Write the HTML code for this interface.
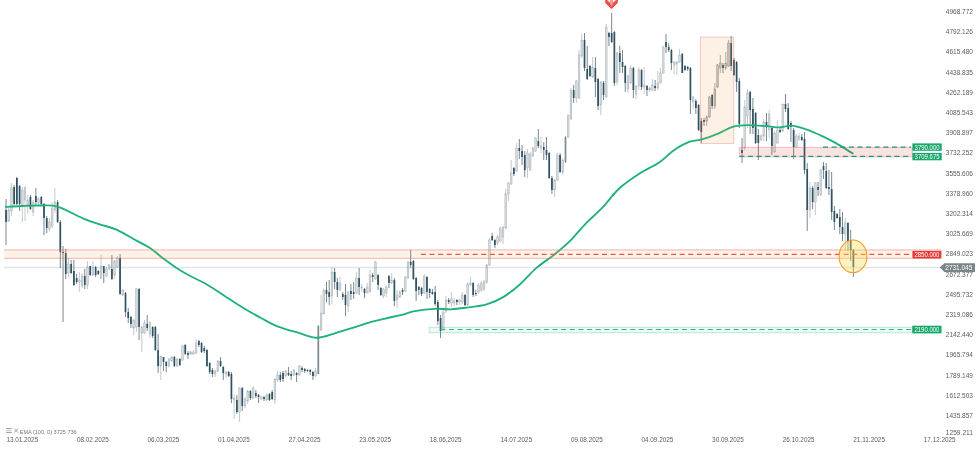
<!DOCTYPE html>
<html><head><meta charset="utf-8"><style>
html,body{margin:0;padding:0;background:#fff;}
body{width:980px;height:452px;overflow:hidden;}
svg{display:block;font-family:"Liberation Sans",sans-serif;will-change:transform;}
.ax text{font-size:7px;fill:#585d62;}
.lb text{font-size:6.4px;fill:#fff;}
</style></head><body>
<svg width="980" height="452" viewBox="0 0 980 452">
<rect width="980" height="452" fill="#fff"/>
<g>
<line x1="6.00" y1="199.0" x2="6.00" y2="245.0" stroke="#566a78" stroke-width="0.8"/>
<rect x="5.15" y="210.0" width="1.7" height="12.0" fill="#2f5262"/>
<line x1="8.72" y1="208.0" x2="8.72" y2="222.0" stroke="#b3bbc0" stroke-width="0.8"/>
<rect x="7.87" y="210.0" width="1.7" height="11.0" fill="#d6dadd" stroke="#a7afb4" stroke-width="0.45"/>
<line x1="11.43" y1="183.0" x2="11.43" y2="216.0" stroke="#b3bbc0" stroke-width="0.8"/>
<rect x="10.58" y="188.0" width="1.7" height="23.0" fill="#d6dadd" stroke="#a7afb4" stroke-width="0.45"/>
<line x1="14.15" y1="185.0" x2="14.15" y2="205.0" stroke="#566a78" stroke-width="0.8"/>
<rect x="13.30" y="187.0" width="1.7" height="17.0" fill="#2f5262"/>
<line x1="16.86" y1="177.0" x2="16.86" y2="205.0" stroke="#566a78" stroke-width="0.8"/>
<rect x="16.01" y="178.0" width="1.7" height="26.0" fill="#2f5262"/>
<line x1="19.58" y1="185.0" x2="19.58" y2="211.0" stroke="#566a78" stroke-width="0.8"/>
<rect x="18.73" y="186.0" width="1.7" height="18.0" fill="#2f5262"/>
<line x1="22.30" y1="187.0" x2="22.30" y2="222.0" stroke="#b3bbc0" stroke-width="0.8"/>
<rect x="21.45" y="190.0" width="1.7" height="15.0" fill="#d6dadd" stroke="#a7afb4" stroke-width="0.45"/>
<line x1="25.01" y1="186.0" x2="25.01" y2="221.0" stroke="#b3bbc0" stroke-width="0.8"/>
<rect x="24.16" y="188.0" width="1.7" height="12.0" fill="#d6dadd" stroke="#a7afb4" stroke-width="0.45"/>
<line x1="27.73" y1="195.0" x2="27.73" y2="214.0" stroke="#b3bbc0" stroke-width="0.8"/>
<rect x="26.88" y="200.0" width="1.7" height="5.0" fill="#d6dadd" stroke="#a7afb4" stroke-width="0.45"/>
<line x1="30.44" y1="195.0" x2="30.44" y2="210.0" stroke="#566a78" stroke-width="0.8"/>
<rect x="29.59" y="197.0" width="1.7" height="12.0" fill="#2f5262"/>
<line x1="33.16" y1="200.0" x2="33.16" y2="216.0" stroke="#b3bbc0" stroke-width="0.8"/>
<rect x="32.31" y="202.0" width="1.7" height="10.0" fill="#d6dadd" stroke="#a7afb4" stroke-width="0.45"/>
<line x1="35.88" y1="188.0" x2="35.88" y2="205.0" stroke="#566a78" stroke-width="0.8"/>
<rect x="35.03" y="196.0" width="1.7" height="6.0" fill="#2f5262"/>
<line x1="38.59" y1="197.0" x2="38.59" y2="206.0" stroke="#b3bbc0" stroke-width="0.8"/>
<rect x="37.74" y="199.0" width="1.7" height="4.0" fill="#d6dadd" stroke="#a7afb4" stroke-width="0.45"/>
<line x1="41.31" y1="196.0" x2="41.31" y2="205.0" stroke="#566a78" stroke-width="0.8"/>
<rect x="40.46" y="197.0" width="1.7" height="7.0" fill="#2f5262"/>
<line x1="44.02" y1="203.0" x2="44.02" y2="235.0" stroke="#566a78" stroke-width="0.8"/>
<rect x="43.17" y="204.0" width="1.7" height="14.0" fill="#2f5262"/>
<line x1="46.74" y1="216.0" x2="46.74" y2="233.0" stroke="#566a78" stroke-width="0.8"/>
<rect x="45.89" y="218.0" width="1.7" height="10.0" fill="#2f5262"/>
<line x1="49.46" y1="218.0" x2="49.46" y2="231.0" stroke="#b3bbc0" stroke-width="0.8"/>
<rect x="48.61" y="222.0" width="1.7" height="7.0" fill="#d6dadd" stroke="#a7afb4" stroke-width="0.45"/>
<line x1="52.17" y1="202.0" x2="52.17" y2="228.0" stroke="#b3bbc0" stroke-width="0.8"/>
<rect x="51.32" y="208.0" width="1.7" height="18.0" fill="#d6dadd" stroke="#a7afb4" stroke-width="0.45"/>
<line x1="54.89" y1="188.0" x2="54.89" y2="213.0" stroke="#b3bbc0" stroke-width="0.8"/>
<rect x="54.04" y="202.0" width="1.7" height="8.0" fill="#d6dadd" stroke="#a7afb4" stroke-width="0.45"/>
<line x1="57.60" y1="200.0" x2="57.60" y2="223.0" stroke="#566a78" stroke-width="0.8"/>
<rect x="56.75" y="202.0" width="1.7" height="20.0" fill="#2f5262"/>
<line x1="60.32" y1="220.0" x2="60.32" y2="268.0" stroke="#566a78" stroke-width="0.8"/>
<rect x="59.47" y="222.0" width="1.7" height="30.0" fill="#2f5262"/>
<line x1="63.04" y1="246.0" x2="63.04" y2="322.0" stroke="#566a78" stroke-width="0.8"/>
<rect x="62.19" y="252.0" width="1.7" height="1.0" fill="#2f5262"/>
<line x1="65.75" y1="249.0" x2="65.75" y2="279.0" stroke="#566a78" stroke-width="0.8"/>
<rect x="64.90" y="253.0" width="1.7" height="21.0" fill="#2f5262"/>
<line x1="68.47" y1="258.0" x2="68.47" y2="277.0" stroke="#b3bbc0" stroke-width="0.8"/>
<rect x="67.62" y="264.0" width="1.7" height="9.0" fill="#d6dadd" stroke="#a7afb4" stroke-width="0.45"/>
<line x1="71.18" y1="260.0" x2="71.18" y2="274.0" stroke="#566a78" stroke-width="0.8"/>
<rect x="70.33" y="264.0" width="1.7" height="9.0" fill="#2f5262"/>
<line x1="73.90" y1="260.0" x2="73.90" y2="286.0" stroke="#566a78" stroke-width="0.8"/>
<rect x="73.05" y="271.0" width="1.7" height="14.0" fill="#2f5262"/>
<line x1="76.62" y1="274.0" x2="76.62" y2="284.0" stroke="#566a78" stroke-width="0.8"/>
<rect x="75.77" y="278.0" width="1.7" height="4.0" fill="#2f5262"/>
<line x1="79.33" y1="272.0" x2="79.33" y2="292.0" stroke="#b3bbc0" stroke-width="0.8"/>
<rect x="78.48" y="280.0" width="1.7" height="2.0" fill="#d6dadd" stroke="#a7afb4" stroke-width="0.45"/>
<line x1="82.05" y1="273.0" x2="82.05" y2="288.0" stroke="#b3bbc0" stroke-width="0.8"/>
<rect x="81.20" y="276.0" width="1.7" height="10.0" fill="#d6dadd" stroke="#a7afb4" stroke-width="0.45"/>
<line x1="84.76" y1="269.0" x2="84.76" y2="289.0" stroke="#566a78" stroke-width="0.8"/>
<rect x="83.91" y="276.0" width="1.7" height="9.0" fill="#2f5262"/>
<line x1="87.48" y1="261.0" x2="87.48" y2="289.0" stroke="#b3bbc0" stroke-width="0.8"/>
<rect x="86.63" y="267.0" width="1.7" height="18.0" fill="#d6dadd" stroke="#a7afb4" stroke-width="0.45"/>
<line x1="90.20" y1="266.0" x2="90.20" y2="276.0" stroke="#566a78" stroke-width="0.8"/>
<rect x="89.35" y="266.0" width="1.7" height="9.0" fill="#2f5262"/>
<line x1="92.91" y1="261.0" x2="92.91" y2="276.0" stroke="#b3bbc0" stroke-width="0.8"/>
<rect x="92.06" y="267.0" width="1.7" height="8.0" fill="#d6dadd" stroke="#a7afb4" stroke-width="0.45"/>
<line x1="95.63" y1="266.0" x2="95.63" y2="277.0" stroke="#566a78" stroke-width="0.8"/>
<rect x="94.78" y="267.0" width="1.7" height="8.0" fill="#2f5262"/>
<line x1="98.34" y1="270.0" x2="98.34" y2="275.0" stroke="#566a78" stroke-width="0.8"/>
<rect x="97.49" y="271.0" width="1.7" height="3.0" fill="#2f5262"/>
<line x1="101.06" y1="255.0" x2="101.06" y2="279.0" stroke="#b3bbc0" stroke-width="0.8"/>
<rect x="100.21" y="266.0" width="1.7" height="12.0" fill="#d6dadd" stroke="#a7afb4" stroke-width="0.45"/>
<line x1="103.78" y1="266.0" x2="103.78" y2="283.0" stroke="#566a78" stroke-width="0.8"/>
<rect x="102.93" y="266.0" width="1.7" height="7.0" fill="#2f5262"/>
<line x1="106.49" y1="267.0" x2="106.49" y2="277.0" stroke="#b3bbc0" stroke-width="0.8"/>
<rect x="105.64" y="269.0" width="1.7" height="7.0" fill="#d6dadd" stroke="#a7afb4" stroke-width="0.45"/>
<line x1="109.21" y1="264.0" x2="109.21" y2="270.0" stroke="#b3bbc0" stroke-width="0.8"/>
<rect x="108.36" y="265.0" width="1.7" height="4.0" fill="#d6dadd" stroke="#a7afb4" stroke-width="0.45"/>
<line x1="111.92" y1="255.0" x2="111.92" y2="280.0" stroke="#566a78" stroke-width="0.8"/>
<rect x="111.07" y="269.0" width="1.7" height="10.0" fill="#2f5262"/>
<line x1="114.64" y1="260.0" x2="114.64" y2="279.0" stroke="#b3bbc0" stroke-width="0.8"/>
<rect x="113.79" y="261.0" width="1.7" height="14.0" fill="#d6dadd" stroke="#a7afb4" stroke-width="0.45"/>
<line x1="117.36" y1="256.0" x2="117.36" y2="268.0" stroke="#b3bbc0" stroke-width="0.8"/>
<rect x="116.51" y="258.0" width="1.7" height="9.0" fill="#d6dadd" stroke="#a7afb4" stroke-width="0.45"/>
<line x1="120.07" y1="254.0" x2="120.07" y2="295.0" stroke="#566a78" stroke-width="0.8"/>
<rect x="119.22" y="258.0" width="1.7" height="36.0" fill="#2f5262"/>
<line x1="122.79" y1="289.0" x2="122.79" y2="296.0" stroke="#b3bbc0" stroke-width="0.8"/>
<rect x="121.94" y="290.0" width="1.7" height="5.0" fill="#d6dadd" stroke="#a7afb4" stroke-width="0.45"/>
<line x1="125.50" y1="292.0" x2="125.50" y2="317.0" stroke="#566a78" stroke-width="0.8"/>
<rect x="124.65" y="293.0" width="1.7" height="19.0" fill="#2f5262"/>
<line x1="128.22" y1="308.0" x2="128.22" y2="323.0" stroke="#566a78" stroke-width="0.8"/>
<rect x="127.37" y="312.0" width="1.7" height="6.0" fill="#2f5262"/>
<line x1="130.94" y1="316.0" x2="130.94" y2="328.0" stroke="#566a78" stroke-width="0.8"/>
<rect x="130.09" y="317.0" width="1.7" height="7.0" fill="#2f5262"/>
<line x1="133.65" y1="319.0" x2="133.65" y2="335.0" stroke="#b3bbc0" stroke-width="0.8"/>
<rect x="132.80" y="320.0" width="1.7" height="8.0" fill="#d6dadd" stroke="#a7afb4" stroke-width="0.45"/>
<line x1="136.37" y1="288.0" x2="136.37" y2="332.0" stroke="#b3bbc0" stroke-width="0.8"/>
<rect x="135.52" y="289.0" width="1.7" height="38.0" fill="#d6dadd" stroke="#a7afb4" stroke-width="0.45"/>
<line x1="139.08" y1="288.0" x2="139.08" y2="340.0" stroke="#566a78" stroke-width="0.8"/>
<rect x="138.23" y="289.0" width="1.7" height="38.0" fill="#2f5262"/>
<line x1="141.80" y1="326.0" x2="141.80" y2="352.0" stroke="#b3bbc0" stroke-width="0.8"/>
<rect x="140.95" y="327.0" width="1.7" height="6.0" fill="#d6dadd" stroke="#a7afb4" stroke-width="0.45"/>
<line x1="144.52" y1="320.0" x2="144.52" y2="334.0" stroke="#b3bbc0" stroke-width="0.8"/>
<rect x="143.67" y="323.0" width="1.7" height="10.0" fill="#d6dadd" stroke="#a7afb4" stroke-width="0.45"/>
<line x1="147.23" y1="315.0" x2="147.23" y2="331.0" stroke="#566a78" stroke-width="0.8"/>
<rect x="146.38" y="324.0" width="1.7" height="4.0" fill="#2f5262"/>
<line x1="149.95" y1="322.0" x2="149.95" y2="338.0" stroke="#b3bbc0" stroke-width="0.8"/>
<rect x="149.10" y="322.0" width="1.7" height="12.0" fill="#d6dadd" stroke="#a7afb4" stroke-width="0.45"/>
<line x1="152.66" y1="326.0" x2="152.66" y2="338.0" stroke="#566a78" stroke-width="0.8"/>
<rect x="151.81" y="327.0" width="1.7" height="9.0" fill="#2f5262"/>
<line x1="155.38" y1="326.0" x2="155.38" y2="351.0" stroke="#566a78" stroke-width="0.8"/>
<rect x="154.53" y="327.0" width="1.7" height="23.0" fill="#2f5262"/>
<line x1="158.10" y1="334.0" x2="158.10" y2="373.0" stroke="#566a78" stroke-width="0.8"/>
<rect x="157.25" y="350.0" width="1.7" height="16.0" fill="#2f5262"/>
<line x1="160.81" y1="356.0" x2="160.81" y2="380.0" stroke="#b3bbc0" stroke-width="0.8"/>
<rect x="159.96" y="356.0" width="1.7" height="10.0" fill="#d6dadd" stroke="#a7afb4" stroke-width="0.45"/>
<line x1="163.53" y1="357.0" x2="163.53" y2="371.0" stroke="#566a78" stroke-width="0.8"/>
<rect x="162.68" y="357.0" width="1.7" height="5.0" fill="#2f5262"/>
<line x1="166.24" y1="361.0" x2="166.24" y2="372.0" stroke="#566a78" stroke-width="0.8"/>
<rect x="165.39" y="362.0" width="1.7" height="4.0" fill="#2f5262"/>
<line x1="168.96" y1="358.0" x2="168.96" y2="367.0" stroke="#b3bbc0" stroke-width="0.8"/>
<rect x="168.11" y="359.0" width="1.7" height="7.0" fill="#d6dadd" stroke="#a7afb4" stroke-width="0.45"/>
<line x1="171.68" y1="356.0" x2="171.68" y2="362.0" stroke="#b3bbc0" stroke-width="0.8"/>
<rect x="170.83" y="357.0" width="1.7" height="4.0" fill="#d6dadd" stroke="#a7afb4" stroke-width="0.45"/>
<line x1="174.39" y1="356.0" x2="174.39" y2="367.0" stroke="#566a78" stroke-width="0.8"/>
<rect x="173.54" y="357.0" width="1.7" height="9.0" fill="#2f5262"/>
<line x1="177.11" y1="358.0" x2="177.11" y2="367.0" stroke="#b3bbc0" stroke-width="0.8"/>
<rect x="176.26" y="359.0" width="1.7" height="7.0" fill="#d6dadd" stroke="#a7afb4" stroke-width="0.45"/>
<line x1="179.82" y1="358.0" x2="179.82" y2="366.0" stroke="#566a78" stroke-width="0.8"/>
<rect x="178.97" y="359.0" width="1.7" height="6.0" fill="#2f5262"/>
<line x1="182.54" y1="345.0" x2="182.54" y2="361.0" stroke="#b3bbc0" stroke-width="0.8"/>
<rect x="181.69" y="346.0" width="1.7" height="14.0" fill="#d6dadd" stroke="#a7afb4" stroke-width="0.45"/>
<line x1="185.26" y1="344.0" x2="185.26" y2="355.0" stroke="#566a78" stroke-width="0.8"/>
<rect x="184.41" y="345.0" width="1.7" height="9.0" fill="#2f5262"/>
<line x1="187.97" y1="351.0" x2="187.97" y2="359.0" stroke="#566a78" stroke-width="0.8"/>
<rect x="187.12" y="353.0" width="1.7" height="2.0" fill="#2f5262"/>
<line x1="190.69" y1="351.0" x2="190.69" y2="355.0" stroke="#b3bbc0" stroke-width="0.8"/>
<rect x="189.84" y="352.0" width="1.7" height="2.0" fill="#d6dadd" stroke="#a7afb4" stroke-width="0.45"/>
<line x1="193.40" y1="350.0" x2="193.40" y2="355.0" stroke="#b3bbc0" stroke-width="0.8"/>
<rect x="192.55" y="352.0" width="1.7" height="2.0" fill="#d6dadd" stroke="#a7afb4" stroke-width="0.45"/>
<line x1="196.12" y1="339.0" x2="196.12" y2="354.0" stroke="#b3bbc0" stroke-width="0.8"/>
<rect x="195.27" y="343.0" width="1.7" height="10.0" fill="#d6dadd" stroke="#a7afb4" stroke-width="0.45"/>
<line x1="198.84" y1="340.0" x2="198.84" y2="347.0" stroke="#566a78" stroke-width="0.8"/>
<rect x="197.99" y="341.0" width="1.7" height="4.0" fill="#2f5262"/>
<line x1="201.55" y1="342.0" x2="201.55" y2="353.0" stroke="#566a78" stroke-width="0.8"/>
<rect x="200.70" y="343.0" width="1.7" height="9.0" fill="#2f5262"/>
<line x1="204.27" y1="346.0" x2="204.27" y2="353.0" stroke="#566a78" stroke-width="0.8"/>
<rect x="203.42" y="348.0" width="1.7" height="3.0" fill="#2f5262"/>
<line x1="206.98" y1="349.0" x2="206.98" y2="367.0" stroke="#566a78" stroke-width="0.8"/>
<rect x="206.13" y="350.0" width="1.7" height="16.0" fill="#2f5262"/>
<line x1="209.70" y1="362.0" x2="209.70" y2="374.0" stroke="#566a78" stroke-width="0.8"/>
<rect x="208.85" y="363.0" width="1.7" height="9.0" fill="#2f5262"/>
<line x1="212.42" y1="368.0" x2="212.42" y2="377.0" stroke="#566a78" stroke-width="0.8"/>
<rect x="211.57" y="370.0" width="1.7" height="4.0" fill="#2f5262"/>
<line x1="215.13" y1="370.0" x2="215.13" y2="377.0" stroke="#b3bbc0" stroke-width="0.8"/>
<rect x="214.28" y="371.0" width="1.7" height="3.0" fill="#d6dadd" stroke="#a7afb4" stroke-width="0.45"/>
<line x1="217.85" y1="360.0" x2="217.85" y2="372.0" stroke="#b3bbc0" stroke-width="0.8"/>
<rect x="217.00" y="361.0" width="1.7" height="10.0" fill="#d6dadd" stroke="#a7afb4" stroke-width="0.45"/>
<line x1="220.56" y1="357.0" x2="220.56" y2="367.0" stroke="#566a78" stroke-width="0.8"/>
<rect x="219.71" y="361.0" width="1.7" height="5.0" fill="#2f5262"/>
<line x1="223.28" y1="366.0" x2="223.28" y2="380.0" stroke="#566a78" stroke-width="0.8"/>
<rect x="222.43" y="367.0" width="1.7" height="6.0" fill="#2f5262"/>
<line x1="226.00" y1="371.0" x2="226.00" y2="378.0" stroke="#b3bbc0" stroke-width="0.8"/>
<rect x="225.15" y="372.0" width="1.7" height="2.0" fill="#d6dadd" stroke="#a7afb4" stroke-width="0.45"/>
<line x1="228.71" y1="371.0" x2="228.71" y2="377.0" stroke="#566a78" stroke-width="0.8"/>
<rect x="227.86" y="372.0" width="1.7" height="4.0" fill="#2f5262"/>
<line x1="231.43" y1="372.0" x2="231.43" y2="403.0" stroke="#566a78" stroke-width="0.8"/>
<rect x="230.58" y="374.0" width="1.7" height="25.0" fill="#2f5262"/>
<line x1="234.14" y1="394.0" x2="234.14" y2="419.0" stroke="#b3bbc0" stroke-width="0.8"/>
<rect x="233.29" y="398.0" width="1.7" height="2.0" fill="#d6dadd" stroke="#a7afb4" stroke-width="0.45"/>
<line x1="236.86" y1="395.0" x2="236.86" y2="414.0" stroke="#566a78" stroke-width="0.8"/>
<rect x="236.01" y="400.0" width="1.7" height="12.0" fill="#2f5262"/>
<line x1="239.58" y1="387.0" x2="239.58" y2="422.0" stroke="#b3bbc0" stroke-width="0.8"/>
<rect x="238.73" y="388.0" width="1.7" height="24.0" fill="#d6dadd" stroke="#a7afb4" stroke-width="0.45"/>
<line x1="242.29" y1="387.0" x2="242.29" y2="411.0" stroke="#566a78" stroke-width="0.8"/>
<rect x="241.44" y="388.0" width="1.7" height="18.0" fill="#2f5262"/>
<line x1="245.01" y1="397.0" x2="245.01" y2="408.0" stroke="#b3bbc0" stroke-width="0.8"/>
<rect x="244.16" y="399.0" width="1.7" height="7.0" fill="#d6dadd" stroke="#a7afb4" stroke-width="0.45"/>
<line x1="247.72" y1="390.0" x2="247.72" y2="404.0" stroke="#b3bbc0" stroke-width="0.8"/>
<rect x="246.87" y="391.0" width="1.7" height="10.0" fill="#d6dadd" stroke="#a7afb4" stroke-width="0.45"/>
<line x1="250.44" y1="390.0" x2="250.44" y2="400.0" stroke="#566a78" stroke-width="0.8"/>
<rect x="249.59" y="391.0" width="1.7" height="7.0" fill="#2f5262"/>
<line x1="253.16" y1="386.0" x2="253.16" y2="399.0" stroke="#b3bbc0" stroke-width="0.8"/>
<rect x="252.31" y="388.0" width="1.7" height="10.0" fill="#d6dadd" stroke="#a7afb4" stroke-width="0.45"/>
<line x1="255.87" y1="390.0" x2="255.87" y2="398.0" stroke="#566a78" stroke-width="0.8"/>
<rect x="255.02" y="393.0" width="1.7" height="3.0" fill="#2f5262"/>
<line x1="258.59" y1="394.0" x2="258.59" y2="403.0" stroke="#566a78" stroke-width="0.8"/>
<rect x="257.74" y="395.0" width="1.7" height="2.0" fill="#2f5262"/>
<line x1="261.30" y1="396.0" x2="261.30" y2="400.0" stroke="#b3bbc0" stroke-width="0.8"/>
<rect x="260.45" y="397.0" width="1.7" height="2.0" fill="#d6dadd" stroke="#a7afb4" stroke-width="0.45"/>
<line x1="264.02" y1="396.0" x2="264.02" y2="401.0" stroke="#566a78" stroke-width="0.8"/>
<rect x="263.17" y="397.0" width="1.7" height="2.0" fill="#2f5262"/>
<line x1="266.74" y1="393.0" x2="266.74" y2="401.0" stroke="#b3bbc0" stroke-width="0.8"/>
<rect x="265.89" y="395.0" width="1.7" height="5.0" fill="#d6dadd" stroke="#a7afb4" stroke-width="0.45"/>
<line x1="269.45" y1="393.0" x2="269.45" y2="401.0" stroke="#566a78" stroke-width="0.8"/>
<rect x="268.60" y="394.0" width="1.7" height="6.0" fill="#2f5262"/>
<line x1="272.17" y1="390.0" x2="272.17" y2="400.0" stroke="#566a78" stroke-width="0.8"/>
<rect x="271.32" y="392.0" width="1.7" height="7.0" fill="#2f5262"/>
<line x1="274.88" y1="378.0" x2="274.88" y2="404.0" stroke="#b3bbc0" stroke-width="0.8"/>
<rect x="274.03" y="379.0" width="1.7" height="21.0" fill="#d6dadd" stroke="#a7afb4" stroke-width="0.45"/>
<line x1="277.60" y1="371.0" x2="277.60" y2="382.0" stroke="#b3bbc0" stroke-width="0.8"/>
<rect x="276.75" y="375.0" width="1.7" height="5.0" fill="#d6dadd" stroke="#a7afb4" stroke-width="0.45"/>
<line x1="280.32" y1="372.0" x2="280.32" y2="382.0" stroke="#566a78" stroke-width="0.8"/>
<rect x="279.47" y="375.0" width="1.7" height="5.0" fill="#2f5262"/>
<line x1="283.03" y1="371.0" x2="283.03" y2="382.0" stroke="#566a78" stroke-width="0.8"/>
<rect x="282.18" y="373.0" width="1.7" height="6.0" fill="#2f5262"/>
<line x1="285.75" y1="370.0" x2="285.75" y2="377.0" stroke="#b3bbc0" stroke-width="0.8"/>
<rect x="284.90" y="371.0" width="1.7" height="5.0" fill="#d6dadd" stroke="#a7afb4" stroke-width="0.45"/>
<line x1="288.46" y1="367.0" x2="288.46" y2="376.0" stroke="#566a78" stroke-width="0.8"/>
<rect x="287.61" y="373.0" width="1.7" height="2.0" fill="#2f5262"/>
<line x1="291.18" y1="371.0" x2="291.18" y2="380.0" stroke="#566a78" stroke-width="0.8"/>
<rect x="290.33" y="374.0" width="1.7" height="2.0" fill="#2f5262"/>
<line x1="293.90" y1="369.0" x2="293.90" y2="376.0" stroke="#b3bbc0" stroke-width="0.8"/>
<rect x="293.05" y="370.0" width="1.7" height="5.0" fill="#d6dadd" stroke="#a7afb4" stroke-width="0.45"/>
<line x1="296.61" y1="372.0" x2="296.61" y2="382.0" stroke="#566a78" stroke-width="0.8"/>
<rect x="295.76" y="373.0" width="1.7" height="2.0" fill="#2f5262"/>
<line x1="299.33" y1="365.0" x2="299.33" y2="376.0" stroke="#b3bbc0" stroke-width="0.8"/>
<rect x="298.48" y="366.0" width="1.7" height="9.0" fill="#d6dadd" stroke="#a7afb4" stroke-width="0.45"/>
<line x1="302.04" y1="366.0" x2="302.04" y2="372.0" stroke="#566a78" stroke-width="0.8"/>
<rect x="301.19" y="368.0" width="1.7" height="2.0" fill="#2f5262"/>
<line x1="304.76" y1="368.0" x2="304.76" y2="373.0" stroke="#566a78" stroke-width="0.8"/>
<rect x="303.91" y="369.0" width="1.7" height="2.0" fill="#2f5262"/>
<line x1="307.48" y1="369.0" x2="307.48" y2="372.0" stroke="#566a78" stroke-width="0.8"/>
<rect x="306.63" y="370.0" width="1.7" height="1.0" fill="#2f5262"/>
<line x1="310.19" y1="369.0" x2="310.19" y2="375.0" stroke="#566a78" stroke-width="0.8"/>
<rect x="309.34" y="370.0" width="1.7" height="2.0" fill="#2f5262"/>
<line x1="312.91" y1="371.0" x2="312.91" y2="380.0" stroke="#566a78" stroke-width="0.8"/>
<rect x="312.06" y="372.0" width="1.7" height="4.0" fill="#2f5262"/>
<line x1="315.62" y1="368.0" x2="315.62" y2="377.0" stroke="#b3bbc0" stroke-width="0.8"/>
<rect x="314.77" y="371.0" width="1.7" height="5.0" fill="#d6dadd" stroke="#a7afb4" stroke-width="0.45"/>
<line x1="318.34" y1="325.0" x2="318.34" y2="374.0" stroke="#7d8a92" stroke-width="0.8"/>
<rect x="317.49" y="326.0" width="1.7" height="48.0" fill="#7f8b93"/>
<line x1="321.06" y1="295.0" x2="321.06" y2="331.0" stroke="#b3bbc0" stroke-width="0.8"/>
<rect x="320.21" y="313.0" width="1.7" height="17.0" fill="#d6dadd" stroke="#a7afb4" stroke-width="0.45"/>
<line x1="323.77" y1="289.0" x2="323.77" y2="314.0" stroke="#b3bbc0" stroke-width="0.8"/>
<rect x="322.92" y="290.0" width="1.7" height="24.0" fill="#d6dadd" stroke="#a7afb4" stroke-width="0.45"/>
<line x1="326.49" y1="282.0" x2="326.49" y2="302.0" stroke="#566a78" stroke-width="0.8"/>
<rect x="325.64" y="290.0" width="1.7" height="4.0" fill="#2f5262"/>
<line x1="329.20" y1="280.0" x2="329.20" y2="305.0" stroke="#566a78" stroke-width="0.8"/>
<rect x="328.35" y="292.0" width="1.7" height="5.0" fill="#2f5262"/>
<line x1="331.92" y1="267.0" x2="331.92" y2="304.0" stroke="#b3bbc0" stroke-width="0.8"/>
<rect x="331.07" y="272.0" width="1.7" height="24.0" fill="#d6dadd" stroke="#a7afb4" stroke-width="0.45"/>
<line x1="334.64" y1="268.0" x2="334.64" y2="289.0" stroke="#566a78" stroke-width="0.8"/>
<rect x="333.79" y="272.0" width="1.7" height="10.0" fill="#2f5262"/>
<line x1="337.35" y1="278.0" x2="337.35" y2="297.0" stroke="#566a78" stroke-width="0.8"/>
<rect x="336.50" y="282.0" width="1.7" height="8.0" fill="#2f5262"/>
<line x1="340.07" y1="277.0" x2="340.07" y2="291.0" stroke="#b3bbc0" stroke-width="0.8"/>
<rect x="339.22" y="283.0" width="1.7" height="7.0" fill="#d6dadd" stroke="#a7afb4" stroke-width="0.45"/>
<line x1="342.78" y1="292.0" x2="342.78" y2="300.0" stroke="#566a78" stroke-width="0.8"/>
<rect x="341.93" y="294.0" width="1.7" height="3.0" fill="#2f5262"/>
<line x1="345.50" y1="284.0" x2="345.50" y2="316.0" stroke="#566a78" stroke-width="0.8"/>
<rect x="344.65" y="295.0" width="1.7" height="10.0" fill="#2f5262"/>
<line x1="348.22" y1="291.0" x2="348.22" y2="312.0" stroke="#b3bbc0" stroke-width="0.8"/>
<rect x="347.37" y="292.0" width="1.7" height="14.0" fill="#d6dadd" stroke="#a7afb4" stroke-width="0.45"/>
<line x1="350.93" y1="284.0" x2="350.93" y2="300.0" stroke="#566a78" stroke-width="0.8"/>
<rect x="350.08" y="291.0" width="1.7" height="3.0" fill="#2f5262"/>
<line x1="353.65" y1="282.0" x2="353.65" y2="299.0" stroke="#566a78" stroke-width="0.8"/>
<rect x="352.80" y="292.0" width="1.7" height="2.0" fill="#2f5262"/>
<line x1="356.36" y1="272.0" x2="356.36" y2="294.0" stroke="#b3bbc0" stroke-width="0.8"/>
<rect x="355.51" y="278.0" width="1.7" height="15.0" fill="#d6dadd" stroke="#a7afb4" stroke-width="0.45"/>
<line x1="359.08" y1="268.0" x2="359.08" y2="295.0" stroke="#566a78" stroke-width="0.8"/>
<rect x="358.23" y="278.0" width="1.7" height="9.0" fill="#2f5262"/>
<line x1="361.80" y1="284.0" x2="361.80" y2="292.0" stroke="#b3bbc0" stroke-width="0.8"/>
<rect x="360.95" y="287.0" width="1.7" height="1.0" fill="#d6dadd" stroke="#a7afb4" stroke-width="0.45"/>
<line x1="364.51" y1="288.0" x2="364.51" y2="298.0" stroke="#566a78" stroke-width="0.8"/>
<rect x="363.66" y="289.0" width="1.7" height="4.0" fill="#2f5262"/>
<line x1="367.23" y1="283.0" x2="367.23" y2="293.0" stroke="#b3bbc0" stroke-width="0.8"/>
<rect x="366.38" y="287.0" width="1.7" height="6.0" fill="#d6dadd" stroke="#a7afb4" stroke-width="0.45"/>
<line x1="369.94" y1="270.0" x2="369.94" y2="292.0" stroke="#b3bbc0" stroke-width="0.8"/>
<rect x="369.09" y="275.0" width="1.7" height="17.0" fill="#d6dadd" stroke="#a7afb4" stroke-width="0.45"/>
<line x1="372.66" y1="273.0" x2="372.66" y2="282.0" stroke="#566a78" stroke-width="0.8"/>
<rect x="371.81" y="275.0" width="1.7" height="2.0" fill="#2f5262"/>
<line x1="375.38" y1="261.0" x2="375.38" y2="280.0" stroke="#b3bbc0" stroke-width="0.8"/>
<rect x="374.53" y="262.0" width="1.7" height="17.0" fill="#d6dadd" stroke="#a7afb4" stroke-width="0.45"/>
<line x1="378.09" y1="274.0" x2="378.09" y2="290.0" stroke="#566a78" stroke-width="0.8"/>
<rect x="377.24" y="275.0" width="1.7" height="10.0" fill="#2f5262"/>
<line x1="380.81" y1="287.0" x2="380.81" y2="296.0" stroke="#566a78" stroke-width="0.8"/>
<rect x="379.96" y="288.0" width="1.7" height="7.0" fill="#2f5262"/>
<line x1="383.52" y1="288.0" x2="383.52" y2="298.0" stroke="#b3bbc0" stroke-width="0.8"/>
<rect x="382.67" y="289.0" width="1.7" height="7.0" fill="#d6dadd" stroke="#a7afb4" stroke-width="0.45"/>
<line x1="386.24" y1="285.0" x2="386.24" y2="297.0" stroke="#b3bbc0" stroke-width="0.8"/>
<rect x="385.39" y="287.0" width="1.7" height="6.0" fill="#d6dadd" stroke="#a7afb4" stroke-width="0.45"/>
<line x1="388.96" y1="275.0" x2="388.96" y2="288.0" stroke="#566a78" stroke-width="0.8"/>
<rect x="388.11" y="276.0" width="1.7" height="7.0" fill="#2f5262"/>
<line x1="391.67" y1="273.0" x2="391.67" y2="284.0" stroke="#b3bbc0" stroke-width="0.8"/>
<rect x="390.82" y="280.0" width="1.7" height="3.0" fill="#d6dadd" stroke="#a7afb4" stroke-width="0.45"/>
<line x1="394.39" y1="278.0" x2="394.39" y2="306.0" stroke="#566a78" stroke-width="0.8"/>
<rect x="393.54" y="280.0" width="1.7" height="21.0" fill="#2f5262"/>
<line x1="397.10" y1="290.0" x2="397.10" y2="308.0" stroke="#b3bbc0" stroke-width="0.8"/>
<rect x="396.25" y="295.0" width="1.7" height="5.0" fill="#d6dadd" stroke="#a7afb4" stroke-width="0.45"/>
<line x1="399.82" y1="290.0" x2="399.82" y2="298.0" stroke="#b3bbc0" stroke-width="0.8"/>
<rect x="398.97" y="292.0" width="1.7" height="5.0" fill="#d6dadd" stroke="#a7afb4" stroke-width="0.45"/>
<line x1="402.54" y1="288.0" x2="402.54" y2="295.0" stroke="#566a78" stroke-width="0.8"/>
<rect x="401.69" y="290.0" width="1.7" height="2.0" fill="#2f5262"/>
<line x1="405.25" y1="276.0" x2="405.25" y2="292.0" stroke="#b3bbc0" stroke-width="0.8"/>
<rect x="404.40" y="277.0" width="1.7" height="14.0" fill="#d6dadd" stroke="#a7afb4" stroke-width="0.45"/>
<line x1="407.97" y1="261.0" x2="407.97" y2="279.0" stroke="#b3bbc0" stroke-width="0.8"/>
<rect x="407.12" y="262.0" width="1.7" height="16.0" fill="#d6dadd" stroke="#a7afb4" stroke-width="0.45"/>
<line x1="410.68" y1="250.0" x2="410.68" y2="268.0" stroke="#566a78" stroke-width="0.8"/>
<rect x="409.83" y="262.0" width="1.7" height="3.0" fill="#2f5262"/>
<line x1="413.40" y1="260.0" x2="413.40" y2="280.0" stroke="#566a78" stroke-width="0.8"/>
<rect x="412.55" y="261.0" width="1.7" height="18.0" fill="#2f5262"/>
<line x1="416.12" y1="277.0" x2="416.12" y2="301.0" stroke="#566a78" stroke-width="0.8"/>
<rect x="415.27" y="278.0" width="1.7" height="13.0" fill="#2f5262"/>
<line x1="418.83" y1="286.0" x2="418.83" y2="295.0" stroke="#566a78" stroke-width="0.8"/>
<rect x="417.98" y="287.0" width="1.7" height="3.0" fill="#2f5262"/>
<line x1="421.55" y1="287.0" x2="421.55" y2="296.0" stroke="#566a78" stroke-width="0.8"/>
<rect x="420.70" y="288.0" width="1.7" height="6.0" fill="#2f5262"/>
<line x1="424.26" y1="274.0" x2="424.26" y2="294.0" stroke="#b3bbc0" stroke-width="0.8"/>
<rect x="423.41" y="276.0" width="1.7" height="17.0" fill="#d6dadd" stroke="#a7afb4" stroke-width="0.45"/>
<line x1="426.98" y1="276.0" x2="426.98" y2="299.0" stroke="#566a78" stroke-width="0.8"/>
<rect x="426.13" y="277.0" width="1.7" height="15.0" fill="#2f5262"/>
<line x1="429.70" y1="288.0" x2="429.70" y2="298.0" stroke="#566a78" stroke-width="0.8"/>
<rect x="428.85" y="289.0" width="1.7" height="4.0" fill="#2f5262"/>
<line x1="432.41" y1="289.0" x2="432.41" y2="295.0" stroke="#566a78" stroke-width="0.8"/>
<rect x="431.56" y="292.0" width="1.7" height="2.0" fill="#2f5262"/>
<line x1="435.13" y1="286.0" x2="435.13" y2="306.0" stroke="#566a78" stroke-width="0.8"/>
<rect x="434.28" y="292.0" width="1.7" height="12.0" fill="#2f5262"/>
<line x1="437.84" y1="300.0" x2="437.84" y2="325.0" stroke="#566a78" stroke-width="0.8"/>
<rect x="436.99" y="302.0" width="1.7" height="19.0" fill="#2f5262"/>
<line x1="440.56" y1="315.0" x2="440.56" y2="338.0" stroke="#566a78" stroke-width="0.8"/>
<rect x="439.71" y="318.0" width="1.7" height="13.0" fill="#2f5262"/>
<line x1="443.28" y1="309.0" x2="443.28" y2="331.0" stroke="#b3bbc0" stroke-width="0.8"/>
<rect x="442.43" y="312.0" width="1.7" height="18.0" fill="#d6dadd" stroke="#a7afb4" stroke-width="0.45"/>
<line x1="445.99" y1="296.0" x2="445.99" y2="313.0" stroke="#b3bbc0" stroke-width="0.8"/>
<rect x="445.14" y="300.0" width="1.7" height="11.0" fill="#d6dadd" stroke="#a7afb4" stroke-width="0.45"/>
<line x1="448.71" y1="298.0" x2="448.71" y2="304.0" stroke="#566a78" stroke-width="0.8"/>
<rect x="447.86" y="300.0" width="1.7" height="2.0" fill="#2f5262"/>
<line x1="451.42" y1="292.0" x2="451.42" y2="307.0" stroke="#b3bbc0" stroke-width="0.8"/>
<rect x="450.57" y="299.0" width="1.7" height="4.0" fill="#d6dadd" stroke="#a7afb4" stroke-width="0.45"/>
<line x1="454.14" y1="298.0" x2="454.14" y2="306.0" stroke="#b3bbc0" stroke-width="0.8"/>
<rect x="453.29" y="301.0" width="1.7" height="2.0" fill="#d6dadd" stroke="#a7afb4" stroke-width="0.45"/>
<line x1="456.86" y1="299.0" x2="456.86" y2="305.0" stroke="#566a78" stroke-width="0.8"/>
<rect x="456.01" y="300.0" width="1.7" height="2.0" fill="#2f5262"/>
<line x1="459.57" y1="299.0" x2="459.57" y2="305.0" stroke="#b3bbc0" stroke-width="0.8"/>
<rect x="458.72" y="300.0" width="1.7" height="2.0" fill="#d6dadd" stroke="#a7afb4" stroke-width="0.45"/>
<line x1="462.29" y1="292.0" x2="462.29" y2="304.0" stroke="#b3bbc0" stroke-width="0.8"/>
<rect x="461.44" y="295.0" width="1.7" height="7.0" fill="#d6dadd" stroke="#a7afb4" stroke-width="0.45"/>
<line x1="465.00" y1="294.0" x2="465.00" y2="306.0" stroke="#566a78" stroke-width="0.8"/>
<rect x="464.15" y="295.0" width="1.7" height="10.0" fill="#2f5262"/>
<line x1="467.72" y1="282.0" x2="467.72" y2="306.0" stroke="#b3bbc0" stroke-width="0.8"/>
<rect x="466.87" y="284.0" width="1.7" height="21.0" fill="#d6dadd" stroke="#a7afb4" stroke-width="0.45"/>
<line x1="470.44" y1="277.0" x2="470.44" y2="286.0" stroke="#b3bbc0" stroke-width="0.8"/>
<rect x="469.59" y="283.0" width="1.7" height="2.0" fill="#d6dadd" stroke="#a7afb4" stroke-width="0.45"/>
<line x1="473.15" y1="282.0" x2="473.15" y2="297.0" stroke="#566a78" stroke-width="0.8"/>
<rect x="472.30" y="283.0" width="1.7" height="12.0" fill="#2f5262"/>
<line x1="475.87" y1="290.0" x2="475.87" y2="296.0" stroke="#566a78" stroke-width="0.8"/>
<rect x="475.02" y="293.0" width="1.7" height="1.0" fill="#2f5262"/>
<line x1="478.58" y1="283.0" x2="478.58" y2="294.0" stroke="#b3bbc0" stroke-width="0.8"/>
<rect x="477.73" y="285.0" width="1.7" height="7.0" fill="#d6dadd" stroke="#a7afb4" stroke-width="0.45"/>
<line x1="481.30" y1="281.0" x2="481.30" y2="292.0" stroke="#b3bbc0" stroke-width="0.8"/>
<rect x="480.45" y="283.0" width="1.7" height="7.0" fill="#d6dadd" stroke="#a7afb4" stroke-width="0.45"/>
<line x1="484.02" y1="280.0" x2="484.02" y2="291.0" stroke="#b3bbc0" stroke-width="0.8"/>
<rect x="483.17" y="282.0" width="1.7" height="7.0" fill="#d6dadd" stroke="#a7afb4" stroke-width="0.45"/>
<line x1="486.73" y1="264.0" x2="486.73" y2="284.0" stroke="#b3bbc0" stroke-width="0.8"/>
<rect x="485.88" y="265.0" width="1.7" height="17.0" fill="#d6dadd" stroke="#a7afb4" stroke-width="0.45"/>
<line x1="489.45" y1="238.0" x2="489.45" y2="266.0" stroke="#b3bbc0" stroke-width="0.8"/>
<rect x="488.60" y="240.0" width="1.7" height="25.0" fill="#d6dadd" stroke="#a7afb4" stroke-width="0.45"/>
<line x1="492.16" y1="233.0" x2="492.16" y2="241.0" stroke="#566a78" stroke-width="0.8"/>
<rect x="491.31" y="236.0" width="1.7" height="4.0" fill="#2f5262"/>
<line x1="494.88" y1="239.0" x2="494.88" y2="248.0" stroke="#566a78" stroke-width="0.8"/>
<rect x="494.03" y="240.0" width="1.7" height="5.0" fill="#2f5262"/>
<line x1="497.60" y1="235.0" x2="497.60" y2="245.0" stroke="#b3bbc0" stroke-width="0.8"/>
<rect x="496.75" y="237.0" width="1.7" height="6.0" fill="#d6dadd" stroke="#a7afb4" stroke-width="0.45"/>
<line x1="500.31" y1="227.0" x2="500.31" y2="242.0" stroke="#b3bbc0" stroke-width="0.8"/>
<rect x="499.46" y="228.0" width="1.7" height="13.0" fill="#d6dadd" stroke="#a7afb4" stroke-width="0.45"/>
<line x1="503.03" y1="226.0" x2="503.03" y2="244.0" stroke="#b3bbc0" stroke-width="0.8"/>
<rect x="502.18" y="227.0" width="1.7" height="10.0" fill="#d6dadd" stroke="#a7afb4" stroke-width="0.45"/>
<line x1="505.74" y1="189.0" x2="505.74" y2="229.0" stroke="#b3bbc0" stroke-width="0.8"/>
<rect x="504.89" y="194.0" width="1.7" height="34.0" fill="#d6dadd" stroke="#a7afb4" stroke-width="0.45"/>
<line x1="508.46" y1="182.0" x2="508.46" y2="201.0" stroke="#b3bbc0" stroke-width="0.8"/>
<rect x="507.61" y="183.0" width="1.7" height="11.0" fill="#d6dadd" stroke="#a7afb4" stroke-width="0.45"/>
<line x1="511.18" y1="160.0" x2="511.18" y2="185.0" stroke="#b3bbc0" stroke-width="0.8"/>
<rect x="510.33" y="173.0" width="1.7" height="11.0" fill="#d6dadd" stroke="#a7afb4" stroke-width="0.45"/>
<line x1="513.89" y1="167.0" x2="513.89" y2="176.0" stroke="#566a78" stroke-width="0.8"/>
<rect x="513.04" y="168.0" width="1.7" height="6.0" fill="#2f5262"/>
<line x1="516.61" y1="143.0" x2="516.61" y2="172.0" stroke="#b3bbc0" stroke-width="0.8"/>
<rect x="515.76" y="148.0" width="1.7" height="23.0" fill="#d6dadd" stroke="#a7afb4" stroke-width="0.45"/>
<line x1="519.32" y1="139.0" x2="519.32" y2="159.0" stroke="#566a78" stroke-width="0.8"/>
<rect x="518.47" y="148.0" width="1.7" height="3.0" fill="#2f5262"/>
<line x1="522.04" y1="145.0" x2="522.04" y2="165.0" stroke="#566a78" stroke-width="0.8"/>
<rect x="521.19" y="151.0" width="1.7" height="6.0" fill="#2f5262"/>
<line x1="524.76" y1="151.0" x2="524.76" y2="177.0" stroke="#566a78" stroke-width="0.8"/>
<rect x="523.91" y="155.0" width="1.7" height="15.0" fill="#2f5262"/>
<line x1="527.47" y1="149.0" x2="527.47" y2="178.0" stroke="#b3bbc0" stroke-width="0.8"/>
<rect x="526.62" y="153.0" width="1.7" height="15.0" fill="#d6dadd" stroke="#a7afb4" stroke-width="0.45"/>
<line x1="530.19" y1="152.0" x2="530.19" y2="171.0" stroke="#b3bbc0" stroke-width="0.8"/>
<rect x="529.34" y="154.0" width="1.7" height="16.0" fill="#d6dadd" stroke="#a7afb4" stroke-width="0.45"/>
<line x1="532.90" y1="147.0" x2="532.90" y2="157.0" stroke="#b3bbc0" stroke-width="0.8"/>
<rect x="532.05" y="148.0" width="1.7" height="8.0" fill="#d6dadd" stroke="#a7afb4" stroke-width="0.45"/>
<line x1="535.62" y1="137.0" x2="535.62" y2="152.0" stroke="#b3bbc0" stroke-width="0.8"/>
<rect x="534.77" y="138.0" width="1.7" height="13.0" fill="#d6dadd" stroke="#a7afb4" stroke-width="0.45"/>
<line x1="538.34" y1="129.0" x2="538.34" y2="148.0" stroke="#566a78" stroke-width="0.8"/>
<rect x="537.49" y="141.0" width="1.7" height="5.0" fill="#2f5262"/>
<line x1="541.05" y1="137.0" x2="541.05" y2="153.0" stroke="#b3bbc0" stroke-width="0.8"/>
<rect x="540.20" y="146.0" width="1.7" height="2.0" fill="#d6dadd" stroke="#a7afb4" stroke-width="0.45"/>
<line x1="543.77" y1="142.0" x2="543.77" y2="160.0" stroke="#566a78" stroke-width="0.8"/>
<rect x="542.92" y="147.0" width="1.7" height="3.0" fill="#2f5262"/>
<line x1="546.48" y1="137.0" x2="546.48" y2="160.0" stroke="#566a78" stroke-width="0.8"/>
<rect x="545.63" y="150.0" width="1.7" height="5.0" fill="#2f5262"/>
<line x1="549.20" y1="152.0" x2="549.20" y2="179.0" stroke="#566a78" stroke-width="0.8"/>
<rect x="548.35" y="153.0" width="1.7" height="25.0" fill="#2f5262"/>
<line x1="551.92" y1="176.0" x2="551.92" y2="194.0" stroke="#566a78" stroke-width="0.8"/>
<rect x="551.07" y="178.0" width="1.7" height="12.0" fill="#2f5262"/>
<line x1="554.63" y1="179.0" x2="554.63" y2="197.0" stroke="#b3bbc0" stroke-width="0.8"/>
<rect x="553.78" y="180.0" width="1.7" height="10.0" fill="#d6dadd" stroke="#a7afb4" stroke-width="0.45"/>
<line x1="557.35" y1="153.0" x2="557.35" y2="181.0" stroke="#b3bbc0" stroke-width="0.8"/>
<rect x="556.50" y="155.0" width="1.7" height="25.0" fill="#d6dadd" stroke="#a7afb4" stroke-width="0.45"/>
<line x1="560.06" y1="153.0" x2="560.06" y2="173.0" stroke="#566a78" stroke-width="0.8"/>
<rect x="559.21" y="155.0" width="1.7" height="17.0" fill="#2f5262"/>
<line x1="562.78" y1="158.0" x2="562.78" y2="175.0" stroke="#b3bbc0" stroke-width="0.8"/>
<rect x="561.93" y="160.0" width="1.7" height="12.0" fill="#d6dadd" stroke="#a7afb4" stroke-width="0.45"/>
<line x1="565.50" y1="136.0" x2="565.50" y2="163.0" stroke="#7d8a92" stroke-width="0.8"/>
<rect x="564.65" y="137.0" width="1.7" height="25.0" fill="#7f8b93"/>
<line x1="568.21" y1="115.0" x2="568.21" y2="138.0" stroke="#b3bbc0" stroke-width="0.8"/>
<rect x="567.36" y="115.0" width="1.7" height="22.0" fill="#d6dadd" stroke="#a7afb4" stroke-width="0.45"/>
<line x1="570.93" y1="88.0" x2="570.93" y2="120.0" stroke="#b3bbc0" stroke-width="0.8"/>
<rect x="570.08" y="90.0" width="1.7" height="29.0" fill="#d6dadd" stroke="#a7afb4" stroke-width="0.45"/>
<line x1="573.64" y1="85.0" x2="573.64" y2="103.0" stroke="#566a78" stroke-width="0.8"/>
<rect x="572.79" y="90.0" width="1.7" height="8.0" fill="#2f5262"/>
<line x1="576.36" y1="80.0" x2="576.36" y2="103.0" stroke="#b3bbc0" stroke-width="0.8"/>
<rect x="575.51" y="81.0" width="1.7" height="17.0" fill="#d6dadd" stroke="#a7afb4" stroke-width="0.45"/>
<line x1="579.08" y1="50.0" x2="579.08" y2="99.0" stroke="#b3bbc0" stroke-width="0.8"/>
<rect x="578.23" y="55.0" width="1.7" height="43.0" fill="#d6dadd" stroke="#a7afb4" stroke-width="0.45"/>
<line x1="581.79" y1="34.0" x2="581.79" y2="58.0" stroke="#b3bbc0" stroke-width="0.8"/>
<rect x="580.94" y="40.0" width="1.7" height="16.0" fill="#d6dadd" stroke="#a7afb4" stroke-width="0.45"/>
<line x1="584.51" y1="33.0" x2="584.51" y2="71.0" stroke="#566a78" stroke-width="0.8"/>
<rect x="583.66" y="40.0" width="1.7" height="28.0" fill="#2f5262"/>
<line x1="587.22" y1="46.0" x2="587.22" y2="80.0" stroke="#566a78" stroke-width="0.8"/>
<rect x="586.37" y="69.0" width="1.7" height="10.0" fill="#2f5262"/>
<line x1="589.94" y1="65.0" x2="589.94" y2="77.0" stroke="#566a78" stroke-width="0.8"/>
<rect x="589.09" y="66.0" width="1.7" height="10.0" fill="#2f5262"/>
<line x1="592.66" y1="57.0" x2="592.66" y2="78.0" stroke="#b3bbc0" stroke-width="0.8"/>
<rect x="591.81" y="67.0" width="1.7" height="10.0" fill="#d6dadd" stroke="#a7afb4" stroke-width="0.45"/>
<line x1="595.37" y1="57.0" x2="595.37" y2="97.0" stroke="#566a78" stroke-width="0.8"/>
<rect x="594.52" y="68.0" width="1.7" height="14.0" fill="#2f5262"/>
<line x1="598.09" y1="78.0" x2="598.09" y2="110.0" stroke="#566a78" stroke-width="0.8"/>
<rect x="597.24" y="79.0" width="1.7" height="27.0" fill="#2f5262"/>
<line x1="600.80" y1="81.0" x2="600.80" y2="115.0" stroke="#b3bbc0" stroke-width="0.8"/>
<rect x="599.95" y="82.0" width="1.7" height="23.0" fill="#d6dadd" stroke="#a7afb4" stroke-width="0.45"/>
<line x1="603.52" y1="81.0" x2="603.52" y2="100.0" stroke="#566a78" stroke-width="0.8"/>
<rect x="602.67" y="83.0" width="1.7" height="12.0" fill="#2f5262"/>
<line x1="606.24" y1="24.0" x2="606.24" y2="98.0" stroke="#b3bbc0" stroke-width="0.8"/>
<rect x="605.39" y="27.0" width="1.7" height="70.0" fill="#d6dadd" stroke="#a7afb4" stroke-width="0.45"/>
<line x1="608.95" y1="32.0" x2="608.95" y2="46.0" stroke="#566a78" stroke-width="0.8"/>
<rect x="608.10" y="33.0" width="1.7" height="4.0" fill="#2f5262"/>
<line x1="611.67" y1="13.0" x2="611.67" y2="43.0" stroke="#566a78" stroke-width="0.8"/>
<rect x="610.82" y="33.0" width="1.7" height="9.0" fill="#2f5262"/>
<line x1="614.38" y1="31.0" x2="614.38" y2="86.0" stroke="#566a78" stroke-width="0.8"/>
<rect x="613.53" y="32.0" width="1.7" height="51.0" fill="#2f5262"/>
<line x1="617.10" y1="52.0" x2="617.10" y2="85.0" stroke="#b3bbc0" stroke-width="0.8"/>
<rect x="616.25" y="53.0" width="1.7" height="29.0" fill="#d6dadd" stroke="#a7afb4" stroke-width="0.45"/>
<line x1="619.82" y1="46.0" x2="619.82" y2="73.0" stroke="#566a78" stroke-width="0.8"/>
<rect x="618.97" y="53.0" width="1.7" height="9.0" fill="#2f5262"/>
<line x1="622.53" y1="50.0" x2="622.53" y2="73.0" stroke="#566a78" stroke-width="0.8"/>
<rect x="621.68" y="62.0" width="1.7" height="5.0" fill="#2f5262"/>
<line x1="625.25" y1="65.0" x2="625.25" y2="92.0" stroke="#566a78" stroke-width="0.8"/>
<rect x="624.40" y="66.0" width="1.7" height="17.0" fill="#2f5262"/>
<line x1="627.96" y1="75.0" x2="627.96" y2="93.0" stroke="#b3bbc0" stroke-width="0.8"/>
<rect x="627.11" y="76.0" width="1.7" height="13.0" fill="#d6dadd" stroke="#a7afb4" stroke-width="0.45"/>
<line x1="630.68" y1="65.0" x2="630.68" y2="84.0" stroke="#b3bbc0" stroke-width="0.8"/>
<rect x="629.83" y="68.0" width="1.7" height="15.0" fill="#d6dadd" stroke="#a7afb4" stroke-width="0.45"/>
<line x1="633.40" y1="67.0" x2="633.40" y2="98.0" stroke="#566a78" stroke-width="0.8"/>
<rect x="632.55" y="68.0" width="1.7" height="22.0" fill="#2f5262"/>
<line x1="636.11" y1="85.0" x2="636.11" y2="99.0" stroke="#b3bbc0" stroke-width="0.8"/>
<rect x="635.26" y="86.0" width="1.7" height="8.0" fill="#d6dadd" stroke="#a7afb4" stroke-width="0.45"/>
<line x1="638.83" y1="67.0" x2="638.83" y2="90.0" stroke="#b3bbc0" stroke-width="0.8"/>
<rect x="637.98" y="70.0" width="1.7" height="16.0" fill="#d6dadd" stroke="#a7afb4" stroke-width="0.45"/>
<line x1="641.54" y1="69.0" x2="641.54" y2="90.0" stroke="#566a78" stroke-width="0.8"/>
<rect x="640.69" y="70.0" width="1.7" height="17.0" fill="#2f5262"/>
<line x1="644.26" y1="67.0" x2="644.26" y2="94.0" stroke="#b3bbc0" stroke-width="0.8"/>
<rect x="643.41" y="85.0" width="1.7" height="2.0" fill="#d6dadd" stroke="#a7afb4" stroke-width="0.45"/>
<line x1="646.98" y1="85.0" x2="646.98" y2="96.0" stroke="#566a78" stroke-width="0.8"/>
<rect x="646.13" y="86.0" width="1.7" height="4.0" fill="#2f5262"/>
<line x1="649.69" y1="87.0" x2="649.69" y2="92.0" stroke="#b3bbc0" stroke-width="0.8"/>
<rect x="648.84" y="88.0" width="1.7" height="2.0" fill="#d6dadd" stroke="#a7afb4" stroke-width="0.45"/>
<line x1="652.41" y1="79.0" x2="652.41" y2="91.0" stroke="#b3bbc0" stroke-width="0.8"/>
<rect x="651.56" y="85.0" width="1.7" height="5.0" fill="#d6dadd" stroke="#a7afb4" stroke-width="0.45"/>
<line x1="655.12" y1="80.0" x2="655.12" y2="91.0" stroke="#566a78" stroke-width="0.8"/>
<rect x="654.27" y="86.0" width="1.7" height="2.0" fill="#2f5262"/>
<line x1="657.84" y1="71.0" x2="657.84" y2="90.0" stroke="#b3bbc0" stroke-width="0.8"/>
<rect x="656.99" y="83.0" width="1.7" height="5.0" fill="#d6dadd" stroke="#a7afb4" stroke-width="0.45"/>
<line x1="660.56" y1="68.0" x2="660.56" y2="84.0" stroke="#b3bbc0" stroke-width="0.8"/>
<rect x="659.71" y="73.0" width="1.7" height="10.0" fill="#d6dadd" stroke="#a7afb4" stroke-width="0.45"/>
<line x1="663.27" y1="46.0" x2="663.27" y2="74.0" stroke="#b3bbc0" stroke-width="0.8"/>
<rect x="662.42" y="47.0" width="1.7" height="26.0" fill="#d6dadd" stroke="#a7afb4" stroke-width="0.45"/>
<line x1="665.99" y1="34.0" x2="665.99" y2="53.0" stroke="#566a78" stroke-width="0.8"/>
<rect x="665.14" y="42.0" width="1.7" height="5.0" fill="#2f5262"/>
<line x1="668.70" y1="43.0" x2="668.70" y2="52.0" stroke="#566a78" stroke-width="0.8"/>
<rect x="667.85" y="47.0" width="1.7" height="3.0" fill="#2f5262"/>
<line x1="671.42" y1="49.0" x2="671.42" y2="70.0" stroke="#566a78" stroke-width="0.8"/>
<rect x="670.57" y="50.0" width="1.7" height="13.0" fill="#2f5262"/>
<line x1="674.14" y1="61.0" x2="674.14" y2="74.0" stroke="#b3bbc0" stroke-width="0.8"/>
<rect x="673.29" y="62.0" width="1.7" height="3.0" fill="#d6dadd" stroke="#a7afb4" stroke-width="0.45"/>
<line x1="676.85" y1="61.0" x2="676.85" y2="75.0" stroke="#b3bbc0" stroke-width="0.8"/>
<rect x="676.00" y="62.0" width="1.7" height="2.0" fill="#d6dadd" stroke="#a7afb4" stroke-width="0.45"/>
<line x1="679.57" y1="49.0" x2="679.57" y2="63.0" stroke="#b3bbc0" stroke-width="0.8"/>
<rect x="678.72" y="55.0" width="1.7" height="7.0" fill="#d6dadd" stroke="#a7afb4" stroke-width="0.45"/>
<line x1="682.28" y1="53.0" x2="682.28" y2="73.0" stroke="#566a78" stroke-width="0.8"/>
<rect x="681.43" y="54.0" width="1.7" height="19.0" fill="#2f5262"/>
<line x1="685.00" y1="65.0" x2="685.00" y2="71.0" stroke="#566a78" stroke-width="0.8"/>
<rect x="684.15" y="66.0" width="1.7" height="4.0" fill="#2f5262"/>
<line x1="687.72" y1="66.0" x2="687.72" y2="71.0" stroke="#566a78" stroke-width="0.8"/>
<rect x="686.87" y="67.0" width="1.7" height="2.0" fill="#2f5262"/>
<line x1="690.43" y1="67.0" x2="690.43" y2="114.0" stroke="#566a78" stroke-width="0.8"/>
<rect x="689.58" y="68.0" width="1.7" height="32.0" fill="#2f5262"/>
<line x1="693.15" y1="96.0" x2="693.15" y2="109.0" stroke="#b3bbc0" stroke-width="0.8"/>
<rect x="692.30" y="97.0" width="1.7" height="5.0" fill="#d6dadd" stroke="#a7afb4" stroke-width="0.45"/>
<line x1="695.86" y1="99.0" x2="695.86" y2="114.0" stroke="#566a78" stroke-width="0.8"/>
<rect x="695.01" y="101.0" width="1.7" height="7.0" fill="#2f5262"/>
<line x1="698.58" y1="104.0" x2="698.58" y2="131.0" stroke="#566a78" stroke-width="0.8"/>
<rect x="697.73" y="105.0" width="1.7" height="25.0" fill="#2f5262"/>
<line x1="701.30" y1="118.0" x2="701.30" y2="143.0" stroke="#566a78" stroke-width="0.8"/>
<rect x="700.45" y="121.0" width="1.7" height="11.0" fill="#2f5262"/>
<line x1="704.01" y1="118.0" x2="704.01" y2="126.0" stroke="#566a78" stroke-width="0.8"/>
<rect x="703.16" y="120.0" width="1.7" height="2.0" fill="#2f5262"/>
<line x1="706.73" y1="115.0" x2="706.73" y2="126.0" stroke="#959a9c" stroke-width="0.8"/>
<rect x="705.88" y="117.0" width="1.7" height="4.0" fill="#c2c4c4" stroke="#8b9194" stroke-width="0.5"/>
<line x1="709.44" y1="96.0" x2="709.44" y2="118.0" stroke="#959a9c" stroke-width="0.8"/>
<rect x="708.59" y="97.0" width="1.7" height="20.0" fill="#c2c4c4" stroke="#8b9194" stroke-width="0.5"/>
<line x1="712.16" y1="94.0" x2="712.16" y2="109.0" stroke="#566a78" stroke-width="0.8"/>
<rect x="711.31" y="95.0" width="1.7" height="11.0" fill="#2f5262"/>
<line x1="714.88" y1="83.0" x2="714.88" y2="109.0" stroke="#959a9c" stroke-width="0.8"/>
<rect x="714.03" y="89.0" width="1.7" height="17.0" fill="#c2c4c4" stroke="#8b9194" stroke-width="0.5"/>
<line x1="717.59" y1="64.0" x2="717.59" y2="88.0" stroke="#959a9c" stroke-width="0.8"/>
<rect x="716.74" y="65.0" width="1.7" height="22.0" fill="#c2c4c4" stroke="#8b9194" stroke-width="0.5"/>
<line x1="720.31" y1="55.0" x2="720.31" y2="73.0" stroke="#959a9c" stroke-width="0.8"/>
<rect x="719.46" y="63.0" width="1.7" height="5.0" fill="#c2c4c4" stroke="#8b9194" stroke-width="0.5"/>
<line x1="723.02" y1="63.0" x2="723.02" y2="73.0" stroke="#566a78" stroke-width="0.8"/>
<rect x="722.17" y="65.0" width="1.7" height="3.0" fill="#2f5262"/>
<line x1="725.74" y1="52.0" x2="725.74" y2="70.0" stroke="#959a9c" stroke-width="0.8"/>
<rect x="724.89" y="63.0" width="1.7" height="5.0" fill="#c2c4c4" stroke="#8b9194" stroke-width="0.5"/>
<line x1="728.46" y1="40.0" x2="728.46" y2="67.0" stroke="#959a9c" stroke-width="0.8"/>
<rect x="727.61" y="43.0" width="1.7" height="23.0" fill="#c2c4c4" stroke="#8b9194" stroke-width="0.5"/>
<line x1="731.17" y1="36.0" x2="731.17" y2="71.0" stroke="#566a78" stroke-width="0.8"/>
<rect x="730.32" y="43.0" width="1.7" height="23.0" fill="#2f5262"/>
<line x1="733.89" y1="58.0" x2="733.89" y2="76.0" stroke="#566a78" stroke-width="0.8"/>
<rect x="733.04" y="60.0" width="1.7" height="15.0" fill="#2f5262"/>
<line x1="736.60" y1="61.0" x2="736.60" y2="92.0" stroke="#566a78" stroke-width="0.8"/>
<rect x="735.75" y="62.0" width="1.7" height="20.0" fill="#2f5262"/>
<line x1="739.32" y1="78.0" x2="739.32" y2="128.0" stroke="#566a78" stroke-width="0.8"/>
<rect x="738.47" y="81.0" width="1.7" height="43.0" fill="#2f5262"/>
<line x1="742.04" y1="138.0" x2="742.04" y2="163.0" stroke="#566a78" stroke-width="0.8"/>
<rect x="741.19" y="150.0" width="1.7" height="3.0" fill="#2f5262"/>
<line x1="744.75" y1="100.0" x2="744.75" y2="150.0" stroke="#b3bbc0" stroke-width="0.8"/>
<rect x="743.90" y="107.0" width="1.7" height="41.0" fill="#d6dadd" stroke="#a7afb4" stroke-width="0.45"/>
<line x1="747.47" y1="89.0" x2="747.47" y2="128.0" stroke="#b3bbc0" stroke-width="0.8"/>
<rect x="746.62" y="93.0" width="1.7" height="23.0" fill="#d6dadd" stroke="#a7afb4" stroke-width="0.45"/>
<line x1="750.18" y1="91.0" x2="750.18" y2="134.0" stroke="#566a78" stroke-width="0.8"/>
<rect x="749.33" y="92.0" width="1.7" height="18.0" fill="#2f5262"/>
<line x1="752.90" y1="98.0" x2="752.90" y2="134.0" stroke="#566a78" stroke-width="0.8"/>
<rect x="752.05" y="109.0" width="1.7" height="19.0" fill="#2f5262"/>
<line x1="755.62" y1="112.0" x2="755.62" y2="144.0" stroke="#566a78" stroke-width="0.8"/>
<rect x="754.77" y="113.0" width="1.7" height="30.0" fill="#2f5262"/>
<line x1="758.33" y1="129.0" x2="758.33" y2="160.0" stroke="#566a78" stroke-width="0.8"/>
<rect x="757.48" y="135.0" width="1.7" height="8.0" fill="#2f5262"/>
<line x1="761.05" y1="134.0" x2="761.05" y2="141.0" stroke="#b3bbc0" stroke-width="0.8"/>
<rect x="760.20" y="136.0" width="1.7" height="4.0" fill="#d6dadd" stroke="#a7afb4" stroke-width="0.45"/>
<line x1="763.76" y1="119.0" x2="763.76" y2="141.0" stroke="#b3bbc0" stroke-width="0.8"/>
<rect x="762.91" y="122.0" width="1.7" height="14.0" fill="#d6dadd" stroke="#a7afb4" stroke-width="0.45"/>
<line x1="766.48" y1="113.0" x2="766.48" y2="141.0" stroke="#566a78" stroke-width="0.8"/>
<rect x="765.63" y="122.0" width="1.7" height="5.0" fill="#2f5262"/>
<line x1="769.20" y1="110.0" x2="769.20" y2="138.0" stroke="#b3bbc0" stroke-width="0.8"/>
<rect x="768.35" y="114.0" width="1.7" height="16.0" fill="#d6dadd" stroke="#a7afb4" stroke-width="0.45"/>
<line x1="771.91" y1="127.0" x2="771.91" y2="155.0" stroke="#566a78" stroke-width="0.8"/>
<rect x="771.06" y="128.0" width="1.7" height="18.0" fill="#2f5262"/>
<line x1="774.63" y1="131.0" x2="774.63" y2="153.0" stroke="#b3bbc0" stroke-width="0.8"/>
<rect x="773.78" y="133.0" width="1.7" height="19.0" fill="#d6dadd" stroke="#a7afb4" stroke-width="0.45"/>
<line x1="777.34" y1="120.0" x2="777.34" y2="144.0" stroke="#b3bbc0" stroke-width="0.8"/>
<rect x="776.49" y="130.0" width="1.7" height="13.0" fill="#d6dadd" stroke="#a7afb4" stroke-width="0.45"/>
<line x1="780.06" y1="127.0" x2="780.06" y2="133.0" stroke="#566a78" stroke-width="0.8"/>
<rect x="779.21" y="130.0" width="1.7" height="2.0" fill="#2f5262"/>
<line x1="782.78" y1="104.0" x2="782.78" y2="132.0" stroke="#b3bbc0" stroke-width="0.8"/>
<rect x="781.93" y="104.0" width="1.7" height="27.0" fill="#d6dadd" stroke="#a7afb4" stroke-width="0.45"/>
<line x1="785.49" y1="94.0" x2="785.49" y2="112.0" stroke="#566a78" stroke-width="0.8"/>
<rect x="784.64" y="104.0" width="1.7" height="5.0" fill="#2f5262"/>
<line x1="788.21" y1="103.0" x2="788.21" y2="130.0" stroke="#566a78" stroke-width="0.8"/>
<rect x="787.36" y="108.0" width="1.7" height="21.0" fill="#2f5262"/>
<line x1="790.92" y1="121.0" x2="790.92" y2="142.0" stroke="#566a78" stroke-width="0.8"/>
<rect x="790.07" y="123.0" width="1.7" height="4.0" fill="#2f5262"/>
<line x1="793.64" y1="128.0" x2="793.64" y2="159.0" stroke="#566a78" stroke-width="0.8"/>
<rect x="792.79" y="130.0" width="1.7" height="17.0" fill="#2f5262"/>
<line x1="796.36" y1="134.0" x2="796.36" y2="148.0" stroke="#b3bbc0" stroke-width="0.8"/>
<rect x="795.51" y="136.0" width="1.7" height="11.0" fill="#d6dadd" stroke="#a7afb4" stroke-width="0.45"/>
<line x1="799.07" y1="133.0" x2="799.07" y2="141.0" stroke="#b3bbc0" stroke-width="0.8"/>
<rect x="798.22" y="136.0" width="1.7" height="3.0" fill="#d6dadd" stroke="#a7afb4" stroke-width="0.45"/>
<line x1="801.79" y1="134.0" x2="801.79" y2="141.0" stroke="#566a78" stroke-width="0.8"/>
<rect x="800.94" y="137.0" width="1.7" height="3.0" fill="#2f5262"/>
<line x1="804.50" y1="132.0" x2="804.50" y2="174.0" stroke="#566a78" stroke-width="0.8"/>
<rect x="803.65" y="139.0" width="1.7" height="31.0" fill="#2f5262"/>
<line x1="807.22" y1="163.0" x2="807.22" y2="231.0" stroke="#566a78" stroke-width="0.8"/>
<rect x="806.37" y="169.0" width="1.7" height="41.0" fill="#2f5262"/>
<line x1="809.94" y1="182.0" x2="809.94" y2="218.0" stroke="#b3bbc0" stroke-width="0.8"/>
<rect x="809.09" y="188.0" width="1.7" height="22.0" fill="#d6dadd" stroke="#a7afb4" stroke-width="0.45"/>
<line x1="812.65" y1="186.0" x2="812.65" y2="209.0" stroke="#566a78" stroke-width="0.8"/>
<rect x="811.80" y="188.0" width="1.7" height="14.0" fill="#2f5262"/>
<line x1="815.37" y1="182.0" x2="815.37" y2="215.0" stroke="#b3bbc0" stroke-width="0.8"/>
<rect x="814.52" y="183.0" width="1.7" height="19.0" fill="#d6dadd" stroke="#a7afb4" stroke-width="0.45"/>
<line x1="818.08" y1="182.0" x2="818.08" y2="196.0" stroke="#566a78" stroke-width="0.8"/>
<rect x="817.23" y="187.0" width="1.7" height="3.0" fill="#2f5262"/>
<line x1="820.80" y1="169.0" x2="820.80" y2="196.0" stroke="#b3bbc0" stroke-width="0.8"/>
<rect x="819.95" y="170.0" width="1.7" height="25.0" fill="#d6dadd" stroke="#a7afb4" stroke-width="0.45"/>
<line x1="823.52" y1="162.0" x2="823.52" y2="179.0" stroke="#566a78" stroke-width="0.8"/>
<rect x="822.67" y="166.0" width="1.7" height="4.0" fill="#2f5262"/>
<line x1="826.23" y1="163.0" x2="826.23" y2="189.0" stroke="#566a78" stroke-width="0.8"/>
<rect x="825.38" y="171.0" width="1.7" height="17.0" fill="#2f5262"/>
<line x1="828.95" y1="170.0" x2="828.95" y2="195.0" stroke="#566a78" stroke-width="0.8"/>
<rect x="828.10" y="187.0" width="1.7" height="2.0" fill="#2f5262"/>
<line x1="831.66" y1="172.0" x2="831.66" y2="220.0" stroke="#566a78" stroke-width="0.8"/>
<rect x="830.81" y="189.0" width="1.7" height="23.0" fill="#2f5262"/>
<line x1="834.38" y1="206.0" x2="834.38" y2="230.0" stroke="#566a78" stroke-width="0.8"/>
<rect x="833.53" y="211.0" width="1.7" height="11.0" fill="#2f5262"/>
<line x1="837.10" y1="213.0" x2="837.10" y2="219.0" stroke="#566a78" stroke-width="0.8"/>
<rect x="836.25" y="214.0" width="1.7" height="4.0" fill="#2f5262"/>
<line x1="839.81" y1="209.0" x2="839.81" y2="234.0" stroke="#566a78" stroke-width="0.8"/>
<rect x="838.96" y="217.0" width="1.7" height="10.0" fill="#2f5262"/>
<line x1="842.53" y1="212.0" x2="842.53" y2="241.0" stroke="#566a78" stroke-width="0.8"/>
<rect x="841.68" y="227.0" width="1.7" height="7.0" fill="#2f5262"/>
<line x1="845.24" y1="218.0" x2="845.24" y2="251.0" stroke="#b3bbc0" stroke-width="0.8"/>
<rect x="844.39" y="223.0" width="1.7" height="11.0" fill="#d6dadd" stroke="#a7afb4" stroke-width="0.45"/>
<line x1="847.96" y1="222.0" x2="847.96" y2="251.0" stroke="#566a78" stroke-width="0.8"/>
<rect x="847.11" y="223.0" width="1.7" height="18.0" fill="#2f5262"/>
<line x1="850.68" y1="230.0" x2="850.68" y2="261.0" stroke="#566a78" stroke-width="0.8"/>
<rect x="849.83" y="240.0" width="1.7" height="10.0" fill="#2f5262"/>
<line x1="853.39" y1="249.0" x2="853.39" y2="277.0" stroke="#566a78" stroke-width="0.8"/>
<rect x="852.54" y="250.0" width="1.7" height="17.0" fill="#2f5262"/>
</g>
<path d="M6,207 C8.7,206.8 16.3,206.2 22,206 C27.7,205.8 34.1,205.4 40,205.5 C45.9,205.6 50.2,204.4 57.5,206.6 C64.8,208.8 77.0,215.9 84,218.8 C91.0,221.8 94.1,222.5 99.6,224.3 C105.1,226.1 110.8,227.0 117,229.8 C123.2,232.6 131.5,237.9 137,240.9 C142.5,243.9 145.6,245.1 150,248 C154.4,250.9 158.9,255.3 163.3,258.6 C167.7,261.9 172.1,265.0 176.5,267.9 C180.9,270.8 184.9,273.1 189.8,275.8 C194.7,278.5 199.9,280.5 205.7,283.8 C211.4,287.1 218.1,291.7 224.3,295.7 C230.5,299.7 236.7,303.9 242.9,307.7 C249.1,311.5 255.8,315.2 261.5,318.3 C267.2,321.4 271.2,323.9 277.4,326.3 C283.6,328.7 292.1,331.0 298.7,332.9 C305.3,334.8 310.9,337.7 317.2,337.7 C323.5,337.7 330.4,334.4 336.3,332.8 C342.2,331.2 347.2,329.6 352.7,327.9 C358.1,326.2 363.6,324.2 369,322.7 C374.4,321.1 379.9,319.9 385.3,318.6 C390.7,317.3 396.7,316.0 401.6,314.8 C406.5,313.6 409.2,312.2 414.7,311.2 C420.1,310.2 428.3,309.1 434.3,308.8 C440.3,308.5 445.2,309.5 450.6,309.3 C456.1,309.1 461.0,308.4 467,307.6 C473.0,306.8 480.6,306.1 486.6,304.4 C492.6,302.6 497.7,300.4 503.2,297.1 C508.7,293.8 514.3,289.4 519.8,284.5 C525.3,279.6 530.9,272.7 536.4,267.9 C541.9,263.1 547.5,260.0 553,255.6 C558.5,251.2 564.1,246.8 569.6,241.4 C575.1,236.0 580.7,228.8 586.2,223.1 C591.7,217.4 597.3,213.0 602.8,207.2 C608.3,201.4 613.3,193.9 619.4,188.3 C625.5,182.7 633.0,177.8 639.6,173.5 C646.2,169.2 653.5,166.4 659.2,162.5 C664.9,158.6 669.0,153.6 673.9,150.2 C678.8,146.8 684.1,143.8 688.6,142.1 C693.1,140.3 695.9,141.1 700.8,139.7 C705.7,138.3 712.7,135.7 718,133.6 C723.3,131.5 727.8,128.3 732.7,126.9 C737.6,125.5 741.7,125.3 747.4,125.2 C753.1,125.1 761.7,125.8 767,126.2 C772.3,126.6 775.1,127.5 779.2,127.4 C783.3,127.3 786.9,125.4 791.4,125.7 C795.9,126.0 801.2,127.8 806.1,129.4 C811.0,131.0 815.9,133.2 820.8,135.5 C825.7,137.8 830.2,139.9 835.5,142.9 C840.8,145.9 849.8,151.7 852.7,153.4" fill="none" stroke="#1db27b" stroke-width="1.85" stroke-linejoin="round" stroke-linecap="round"/>
<g>
<rect x="4" y="249.8" width="908" height="8.6" fill="rgb(242,150,60)" fill-opacity="0.12"/>
<line x1="4" y1="249.9" x2="941.4" y2="249.9" stroke="#f25c54" stroke-opacity="0.35" stroke-width="1.1"/>
<line x1="4" y1="258.4" x2="912" y2="258.4" stroke="#f25c54" stroke-opacity="0.35" stroke-width="1.1"/>
<line x1="420.9" y1="254.4" x2="911" y2="254.4" stroke="#e8574a" stroke-width="1.2" stroke-dasharray="5 3.625"/>
<line x1="4" y1="267.5" x2="940" y2="267.5" stroke="rgb(130,135,140)" stroke-opacity="0.22" stroke-width="1.3"/>
<rect x="739.3" y="147.4" width="173" height="9.4" fill="rgb(230,60,70)" fill-opacity="0.15" stroke="#f05a64" stroke-opacity="0.35" stroke-width="1"/>
<line x1="823" y1="147.2" x2="911" y2="147.2" stroke="#1e9e63" stroke-width="1.2" stroke-dasharray="5 3.625"/>
<line x1="739.3" y1="156.4" x2="911" y2="156.4" stroke="#1e9e63" stroke-width="1.2" stroke-dasharray="5 3.625"/>
<rect x="700.5" y="37.1" width="33.2" height="106.4" fill="rgb(242,150,60)" fill-opacity="0.13" stroke="#f25c54" stroke-opacity="0.35" stroke-width="0.9"/>
<rect x="429.2" y="327.3" width="483" height="5.4" fill="rgb(40,190,120)" fill-opacity="0.07" stroke="#2dbb83" stroke-opacity="0.35" stroke-width="0.9"/>
<line x1="440.4" y1="329.5" x2="911" y2="329.5" stroke="#2dbb83" stroke-width="1.2" stroke-dasharray="5 3.625"/>
<ellipse cx="853" cy="256.4" rx="13.9" ry="16.3" fill="rgb(251,222,80)" fill-opacity="0.36" stroke="#f39a2a" stroke-width="1.05"/>
</g>
<g class="lb">
<rect x="912.4" y="250.8" width="29" height="7.8" fill="#e53935"/>
<text x="914.4" y="257.1" textLength="25" lengthAdjust="spacingAndGlyphs">2850.000</text>
<rect x="912.4" y="143.4" width="29.3" height="7.4" fill="#16a76b"/>
<text x="914.6" y="149.6" textLength="25" lengthAdjust="spacingAndGlyphs">3790.000</text>
<rect x="912.4" y="152.9" width="29.3" height="7.4" fill="#16a76b"/>
<text x="914.6" y="159.1" textLength="25" lengthAdjust="spacingAndGlyphs">3709.675</text>
<rect x="912.3" y="325.7" width="29.2" height="7.7" fill="#16a76b"/>
<text x="914.4" y="332" textLength="25" lengthAdjust="spacingAndGlyphs">2190.000</text>
</g>
<g class="ax">
<text x="945.8" y="13.9" textLength="27.2" lengthAdjust="spacingAndGlyphs">4968.772</text>
<text x="945.8" y="34.1" textLength="27.2" lengthAdjust="spacingAndGlyphs">4792.126</text>
<text x="945.8" y="54.4" textLength="27.2" lengthAdjust="spacingAndGlyphs">4615.480</text>
<text x="945.8" y="74.5" textLength="27.2" lengthAdjust="spacingAndGlyphs">4438.835</text>
<text x="945.8" y="94.7" textLength="27.2" lengthAdjust="spacingAndGlyphs">4262.189</text>
<text x="945.8" y="114.9" textLength="27.2" lengthAdjust="spacingAndGlyphs">4085.543</text>
<text x="945.8" y="135.1" textLength="27.2" lengthAdjust="spacingAndGlyphs">3908.897</text>
<text x="945.8" y="155.3" textLength="27.2" lengthAdjust="spacingAndGlyphs">3732.252</text>
<text x="945.8" y="175.5" textLength="27.2" lengthAdjust="spacingAndGlyphs">3555.606</text>
<text x="945.8" y="195.7" textLength="27.2" lengthAdjust="spacingAndGlyphs">3378.960</text>
<text x="945.8" y="215.9" textLength="27.2" lengthAdjust="spacingAndGlyphs">3202.314</text>
<text x="945.8" y="236.1" textLength="27.2" lengthAdjust="spacingAndGlyphs">3025.669</text>
<text x="945.8" y="256.3" textLength="27.2" lengthAdjust="spacingAndGlyphs">2849.023</text>
<text x="945.8" y="276.6" textLength="27.2" lengthAdjust="spacingAndGlyphs">2672.377</text>
<text x="945.8" y="296.8" textLength="27.2" lengthAdjust="spacingAndGlyphs">2495.732</text>
<text x="945.8" y="317.0" textLength="27.2" lengthAdjust="spacingAndGlyphs">2319.086</text>
<text x="945.8" y="337.2" textLength="27.2" lengthAdjust="spacingAndGlyphs">2142.440</text>
<text x="945.8" y="357.4" textLength="27.2" lengthAdjust="spacingAndGlyphs">1965.794</text>
<text x="945.8" y="377.6" textLength="27.2" lengthAdjust="spacingAndGlyphs">1789.149</text>
<text x="945.8" y="397.8" textLength="27.2" lengthAdjust="spacingAndGlyphs">1612.503</text>
<text x="945.8" y="418.0" textLength="27.2" lengthAdjust="spacingAndGlyphs">1435.857</text>
<text x="945.8" y="435.1" textLength="27.2" lengthAdjust="spacingAndGlyphs">1259.211</text>
<text x="6.4" y="442.3" textLength="31.8" lengthAdjust="spacingAndGlyphs">13.01.2025</text>
<text x="77.0" y="442.3" textLength="31.8" lengthAdjust="spacingAndGlyphs">08.02.2025</text>
<text x="147.5" y="442.3" textLength="31.8" lengthAdjust="spacingAndGlyphs">06.03.2025</text>
<text x="218.1" y="442.3" textLength="31.8" lengthAdjust="spacingAndGlyphs">01.04.2025</text>
<text x="288.7" y="442.3" textLength="31.8" lengthAdjust="spacingAndGlyphs">27.04.2025</text>
<text x="359.2" y="442.3" textLength="31.8" lengthAdjust="spacingAndGlyphs">23.05.2025</text>
<text x="429.8" y="442.3" textLength="31.8" lengthAdjust="spacingAndGlyphs">18.06.2025</text>
<text x="500.4" y="442.3" textLength="31.8" lengthAdjust="spacingAndGlyphs">14.07.2025</text>
<text x="571.0" y="442.3" textLength="31.8" lengthAdjust="spacingAndGlyphs">09.08.2025</text>
<text x="641.5" y="442.3" textLength="31.8" lengthAdjust="spacingAndGlyphs">04.09.2025</text>
<text x="712.1" y="442.3" textLength="31.8" lengthAdjust="spacingAndGlyphs">30.09.2025</text>
<text x="782.7" y="442.3" textLength="31.8" lengthAdjust="spacingAndGlyphs">26.10.2025</text>
<text x="853.2" y="442.3" textLength="31.8" lengthAdjust="spacingAndGlyphs">21.11.2025</text>
<text x="923.8" y="442.3" textLength="31.8" lengthAdjust="spacingAndGlyphs">17.12.2025</text>
</g>
<path d="M939.6,267.6 L944.5,263.3 L975,263.3 L975,272 L944.5,272 Z" fill="#7b848a"/>
<text x="945.3" y="270.3" font-size="7.2" fill="#fff" textLength="27" lengthAdjust="spacingAndGlyphs">2731.045</text>
<g transform="translate(611.5,0)">
<path d="M-6.1,-1 L6.1,-1 L6.1,2.9 L0,9 L-6.1,2.9 Z" fill="#ef6e68"/>
<path d="M-3.9,-1 L-1.4,-1 L-1.4,2.6 L-3.9,0.4 Z" fill="#fff" fill-opacity="0.9"/>
<path d="M3.9,-1 L1.4,-1 L1.4,2.6 L3.9,0.4 Z" fill="#fff" fill-opacity="0.9"/>
<path d="M-1.2,-1 L1.2,-1 L1.2,5 L0,6.2 L-1.2,5 Z" fill="#f4a09b"/>
<path d="M-5.5,-1 L-5.5,2.7 L0,8.2 L5.5,2.7 L5.5,-1" fill="none" stroke="#e3322b" stroke-width="1"/>
<path d="M-4.6,1.6 L0,6.1 L4.6,1.6" fill="none" stroke="#e3322b" stroke-width="0.9"/>
</g>
<g fill="#8d9195">
<rect x="6.1" y="428.1" width="5.6" height="0.9"/><rect x="6.1" y="430" width="5.6" height="0.7" fill-opacity="0.7"/><rect x="6.1" y="431.9" width="5.6" height="0.9"/>
</g>
<path d="M14.3,428.7 L17.8,432.5 M17.8,428.7 L14.3,432.5" stroke="#8d9195" stroke-width="0.85"/>
<text x="19.7" y="434" font-size="5.3" fill="#73787d" textLength="57" lengthAdjust="spacingAndGlyphs">EMA (100, 0) 3725.736</text>
</svg>
</body></html>
